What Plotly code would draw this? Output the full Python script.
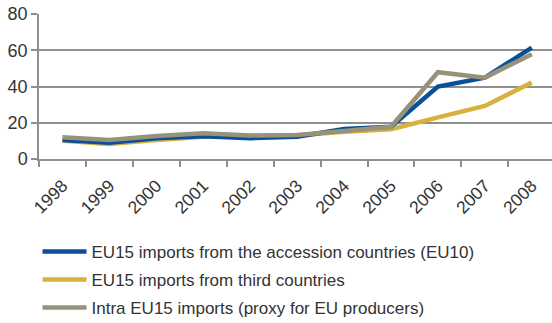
import plotly.graph_objects as go

years = ["1998", "1999", "2000", "2001", "2002", "2003", "2004", "2005", "2006", "2007", "2008"]
eu10 = [10.5, 9.0, 11.5, 12.5, 11.5, 12.3, 16.6, 17.8, 40.0, 44.9, 61.5]
third = [10.1, 8.3, 10.5, 12.3, 12.5, 13.0, 15.0, 16.4, 23.0, 29.3, 42.2]
intra = [12.0, 10.5, 12.7, 14.2, 13.0, 13.3, 15.5, 17.8, 47.9, 44.9, 57.8]

names = [
    "EU15 imports from the accession countries (EU10)",
    "EU15 imports from third countries",
    "Intra EU15 imports (proxy for EU producers)",
]
colors = ["#0a4f9b", "#d8b13f", "#97937b"]
series = [eu10, third, intra]

fig = go.Figure()
draw_order = [1, 0, 2]
for i in draw_order:
    fig.add_trace(go.Scatter(
        x=years, y=series[i], mode="lines", name=names[i],
        line=dict(color=colors[i], width=4.5),
        legendgroup=f"g{i}", legendrank=i + 1,
    ))

axis_col = "#8f8f8f"
fig.update_layout(
    width=552, height=323,
    margin=dict(l=39, r=0, t=14, b=164, autoexpand=False),
    paper_bgcolor="white", plot_bgcolor="white",
    font=dict(family="Liberation Sans, Arial, sans-serif", size=16, color="#333333"),
    showlegend=True,
    legend=dict(
        xref="container", yref="container",
        x=0.068, xanchor="left", y=0.276, yanchor="top",
        orientation="v", tracegroupgap=3,
        font=dict(size=17, color="#333333"),
        bgcolor="rgba(0,0,0,0)", itemwidth=44,
    ),
    xaxis=dict(
        type="category", tickson="boundaries", range=[-0.5, 10.43],
        showgrid=False, showline=True, linecolor=axis_col, linewidth=1.5,
        ticks="outside", ticklen=6, tickcolor=axis_col, tickwidth=1.5,
        tickangle=-45, tickfont=dict(size=17.5), ticklabelstandoff=8,
    ),
    yaxis=dict(
        range=[0, 80], tickvals=[0, 20, 40, 60, 80],
        showgrid=True, gridcolor=axis_col, gridwidth=1.5,
        showline=True, linecolor=axis_col, linewidth=1.5,
        ticks="outside", ticklen=6, tickcolor=axis_col, tickwidth=1.5,
        zeroline=False, tickfont=dict(size=18),
    ),
)

fig.write_html(
    "out.html",
    config={"displayModeBar": False},
    post_script="document.body.style.margin='0';document.body.style.overflow='hidden';",
)
